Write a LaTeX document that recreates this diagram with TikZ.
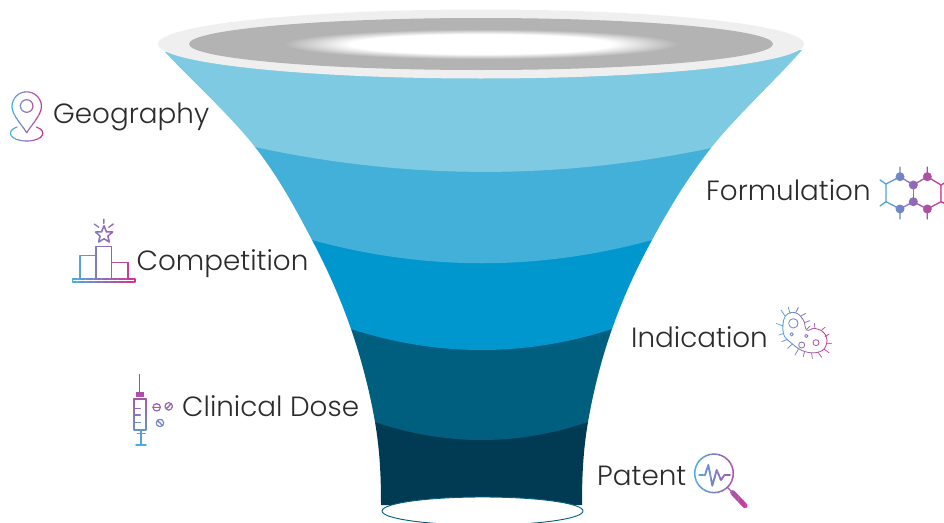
\documentclass[tikz,border=0pt]{standalone}
\usepackage{fontspec}
\setmainfont{Poppins Light}
\usetikzlibrary{shapes.geometric}
\definecolor{rimc}{HTML}{EFEFEF}
\definecolor{innerc}{HTML}{B3B3B3}
\definecolor{bandA}{HTML}{7FCAE3}
\definecolor{bandB}{HTML}{42B0D9}
\definecolor{bandC}{HTML}{0097CE}
\definecolor{bandD}{HTML}{005F7F}
\definecolor{bandE}{HTML}{003B53}
\definecolor{gA}{HTML}{45B3E0}
\definecolor{gB}{HTML}{8E6CB8}
\definecolor{gC}{HTML}{D52E8D}
\definecolor{txt}{HTML}{2B2B2B}
\pgfdeclareradialshading{glow}{\pgfpoint{0bp}{0bp}}{color(0bp)=(white); color(16bp)=(white); color(24bp)=(innerc); color(50bp)=(innerc)}
\tikzset{
  label/.style={font=\fontsize{27.8}{30}\selectfont, text=txt, anchor=base west, inner sep=0pt},
  iconline/.style={draw=gc, line width=1.1pt, line cap=round, line join=round},
  iconfill/.style={fill=gc, draw=gc, line width=.5pt}
}
% #1 start, #2 end, #3 drawing : horizontal colour sweep
\newcommand\sweepx[3]{%
  \foreach \ii in {0,...,23}{%
    \pgfmathsetmacro\xa{#1+(#2-#1)*\ii/24}%
    \pgfmathsetmacro\xb{#1+(#2-#1)*(\ii+1)/24+.3}%
    \pgfmathtruncatemacro\pp{\ii<12 ? (\ii+.5)*100/12 : (\ii-11.5)*100/12}%
    \ifnum\ii<12 \colorlet{gc}{gB!\pp!gA}\else \colorlet{gc}{gC!\pp!gB}\fi
    \begin{scope}\clip (\xa,-50) rectangle (\xb,600); #3 \end{scope}%
  }}
% vertical sweep, magenta at the top
\newcommand\sweepy[3]{%
  \foreach \ii in {0,...,23}{%
    \pgfmathsetmacro\ya{#1+(#2-#1)*\ii/24}%
    \pgfmathsetmacro\yb{#1+(#2-#1)*(\ii+1)/24+.3}%
    \pgfmathtruncatemacro\pp{\ii<12 ? (\ii+.5)*100/12 : (\ii-11.5)*100/12}%
    \ifnum\ii<12 \colorlet{gc}{gB!\pp!gC}\else \colorlet{gc}{gA!\pp!gB}\fi
    \begin{scope}\clip (-50,\ya) rectangle (1000,\yb); #3 \end{scope}%
  }}
\begin{document}
\begin{tikzpicture}[x=1pt,y=-1pt]
\useasboundingbox (0,0) rectangle (944,522);
\clip (0,0) rectangle (944,522);
% funnel bands, lowest first
\fill[bandE] (375,422) .. controls (380,451.3) and (381,477) .. (381,505) -- (582,505)
  .. controls (582,477) and (583,451.3) .. (588,422) -- cycle;
\fill[bandD] (351,329) .. controls (361.5,359.3) and (370,392.7) .. (375,422)
  .. controls (446,446) and (517,446) .. (588,422)
  .. controls (593,392.7) and (601.3,359.3) .. (612,329) -- cycle;
\fill[bandC] (312,240) .. controls (328,270.3) and (340.5,298.7) .. (351,329)
  .. controls (438,357) and (525,357) .. (612,329)
  .. controls (622.7,298.7) and (635.5,270.2) .. (652,240) -- cycle;
\fill[bandB] (255,147) .. controls (279.5,178.3) and (296,209.7) .. (312,240)
  .. controls (425,271) and (539,271) .. (652,240)
  .. controls (668.5,209.8) and (686,179.7) .. (711,148) -- cycle;
\fill[bandA] (165,52) .. controls (195,84) and (230.5,115.7) .. (255,147)
  .. controls (407,180) and (559,180) .. (711,148)
  .. controls (736,116.3) and (772,84) .. (802,50) -- cycle;
% rim and throat
\fill[rimc] (481,44) ellipse [x radius=323, y radius=34.5];
\fill[innerc] (481,44) ellipse [x radius=292, y radius=26];
\shade[shading=glow] (276,28.5) rectangle (686,59.5);
% bottom opening
\draw[bandD, line width=.9pt, fill=white] (482.5,511) ellipse [x radius=100.5, y radius=14];
% labels
\node[label] (geo) at (53,123) {Geography};
\node[label] (comp) at (136.5,270) {Competition};
\node[label] (dose) at (182,416) {Clinical Dose};
\node[label] (form) at (706,200) {Formulation};
\node[label] (indi) at (631,347) {Indication};
\node[label] (pat) at (597,485) {Patent};
% pin icon
\sweepx{10}{44}{
  \draw[iconline] (26.7,132.7) .. controls (22,125) and (12,115) .. (12,106.5)
     arc[start angle=180, end angle=360, radius=14.7]
     .. controls (41.4,115) and (31.4,125) .. (26.7,132.7) -- cycle;
  \draw[iconline] (26.7,106) circle[radius=6.3];
  \draw[iconline] (17,127) .. controls (5,131) and (10,141) .. (26.7,141)
     .. controls (43.4,141) and (48,131) .. (36.4,127);
}
% podium icon
\sweepx{72}{136}{
  \draw[iconline, line width=1.5pt] (72.5,279) rectangle (135,282);
  \draw[iconline, line width=1.5pt] (80,279) -- (80,255.3) -- (96,255.3) -- (96,279);
  \draw[iconline, line width=1.5pt] (96,255.3) -- (96,246.7) -- (111.7,246.7) -- (111.7,279);
  \draw[iconline, line width=1.5pt] (111.7,262.7) -- (128,262.7) -- (128,279);
  \draw[iconline, line width=1.5pt] (104,225.7) -- (106.4,231.9) -- (112.6,232) -- (107.9,236.1) -- (109.3,242) -- (104,238.7) -- (98.7,242) -- (100.1,236.1) -- (95.4,232) -- (101.6,231.9) -- cycle;
  \draw[iconline, line width=1.3pt] (103.7,219.3) -- (103.7,223.3) (94.3,224) -- (98.7,227.3) (113.3,224) -- (108.7,227.3);
}
% syringe icon
\sweepy{374}{446}{
  \draw[iconline, line width=1.3pt] (139.5,374.5) -- (139.5,392);
  \draw[iconfill] (136.7,392) rectangle (143.3,396.5);
  \draw[iconline, line width=1.3pt] (134,399) rectangle (146,430);
  \draw[iconline, line width=1.3pt] (134,408.3) -- (140.3,408.3) (134,415) -- (140.3,415) (134,422.3) -- (140.3,422.3);
  \draw[iconline, line width=2.6pt] (140.8,431) -- (140.8,445);
  \draw[iconline, line width=1.6pt] (137.3,433.5) -- (145,433.5) (136,445) -- (146,445);
  \draw[iconline] (156.7,407.3) circle[radius=3.7] (154.4,407.3) -- (159,407.3);
  \draw[iconline] (168.7,406.3) circle[radius=3.7] (166.7,408.3) -- (170.7,404.3);
  \draw[iconline] (160,423) circle[radius=3.7] (158,421) -- (162,425);
}
% hexagon icon
\sweepx{878}{946}{
  \draw[iconline, line width=1.3pt] (886,184) -- (900,176.7) -- (913.3,185) -- (927.3,176.7) -- (941,185) -- (941,201.7) -- (927.3,209) -- (913.3,201.7) -- (900,209) -- (886,201.7) -- cycle;
  \draw[iconline, line width=1.3pt] (913.3,185) -- (913.3,201.7);
  \draw[iconline, line width=1.3pt] (900,176.7) -- (900,167) (927.3,176.7) -- (927.3,167) (900,209) -- (900,219) (927.3,209) -- (927.3,219) (886,184) -- (880,180) (886,201.7) -- (880,206) (941,185) -- (946,182) (941,201.7) -- (946,204);
  \fill[gc] (900,176.7) circle[radius=4.5] (927.3,176.7) circle[radius=4.5] (913.3,185) circle[radius=4.5] (913.3,201.7) circle[radius=4.5] (900,209) circle[radius=4.5] (927.3,209) circle[radius=4.5];
}
% microbe icon
\sweepx{776}{832}{
  \begin{scope}[shift={(765,300)},x=.3333pt,y=-.3333pt]
  \draw[iconline, line width=.8pt] plot[smooth cycle, tension=.7] coordinates {(60,50) (90,38) (115,60) (125,90) (150,85) (178,100) (185,130) (165,155) (120,155) (80,130) (55,100)};
  \draw[iconline, line width=.8pt] (85,70) circle[radius=4.7pt] (80,103) circle[radius=1.7pt] (124,108) circle[radius=1.7pt] (110,135) circle[radius=3pt] (153,128) circle[radius=3pt];
  \draw[iconline, line width=.7pt] (60,48)--(48,30) (75,40)--(70,22) (92,38)--(100,22) (108,48)--(122,40) (118,68)--(135,62) (125,88)--(135,78) (150,85)--(148,70) (168,92)--(180,82) (180,110)--(192,102) (186,130)--(200,130) (178,148)--(192,158) (160,158)--(170,172) (140,160)--(142,176) (118,155)--(115,170) (100,148)--(90,165) (82,132)--(68,145) (68,118)--(50,125) (57,100)--(42,105) (55,78)--(33,70);
  \end{scope}
}
% magnifier icon
\sweepx{694}{750}{
  \begin{scope}[shift={(690,445)},x=.3333pt,y=-.3333pt]
  \draw[iconline, line width=1.5pt] (72,85) circle[radius=19.3pt];
  \draw[iconline, line width=1.8pt] (28,90) -- (45,90) -- (55,60) -- (67,122) -- (80,75) -- (93,105) -- (103,90) -- (120,90);
  \draw[iconline, line width=1.3pt] (113,128) -- (128,143);
  \draw[iconline, line width=5pt] (128,143) -- (165,182);
  \end{scope}
}
\end{tikzpicture}
\end{document}
